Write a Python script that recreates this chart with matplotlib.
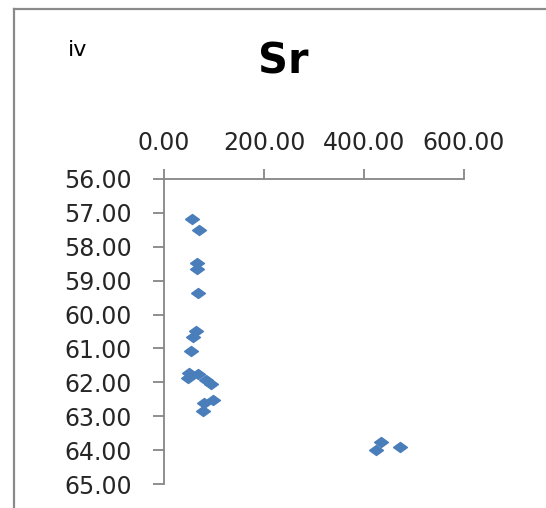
import matplotlib
matplotlib.use("Agg")
import matplotlib.pyplot as plt
from matplotlib.lines import Line2D

# Sr values (x) against depth-like values (y)
sr = [55.6, 70.2, 66.8, 66.2, 67.6, 63.6, 58.8, 53.6, 50.8, 48.8, 68.8,
      84.3, 93.7, 97.7, 80.9, 78.9, 433.5, 423.4, 472.2]
depth = [57.19, 57.51, 58.49, 58.67, 59.38, 60.49, 60.65, 61.06, 61.71, 61.88,
         61.75, 61.93, 62.05, 62.52, 62.61, 62.83, 63.74, 63.99, 63.89]
xticks = [0, 200, 400, 600]
yticks = [56, 57, 58, 59, 60, 61, 62, 63, 64, 65]

axcol = "#868686"
ptcol = "#4A7EBB"

fig = plt.figure(figsize=(5.46, 5.08), dpi=100)
ax = fig.add_axes([164/546, 1-484.3/508, 300/546, (484.3-178.7)/508])

diamond = [(-1, 0), (0, 0.72), (1, 0), (0, -0.72), (-1, 0)]
ax.plot(sr, depth, linestyle="none", marker=diamond, ms=10,
        color=ptcol, markeredgecolor=ptcol, clip_on=False)

ax.set_xlim(0, 600)
ax.set_ylim(65, 56)
ax.set_xticks(xticks)
ax.set_yticks(yticks)
ax.set_xticklabels(["%.2f" % v for v in xticks])
ax.set_yticklabels(["%.2f" % v for v in yticks])
ax.xaxis.tick_top()

for s in ["right", "bottom"]:
    ax.spines[s].set_visible(False)
for s in ["left", "top"]:
    ax.spines[s].set_color(axcol)
    ax.spines[s].set_linewidth(1.3)

ax.tick_params(axis="x", direction="out", length=7, width=1.3, color=axcol,
               pad=10, labelsize=17, labelcolor="#262626")
ax.tick_params(axis="y", direction="out", length=8, width=1.3, color=axcol,
               pad=15, labelsize=17, labelcolor="#262626")

fig.text(283/546, 1-62/508, "Sr", ha="center", va="center",
         fontsize=30, fontweight="bold")
fig.text(68/546, 1-56/508, "iv", ha="left", va="baseline", fontsize=16)

# outer chart frame (left and top edges visible)
fig.add_artist(Line2D([14/546, 14/546], [0, 1-8.5/508], transform=fig.transFigure,
                      color="#8a8a8a", lw=1.6))
fig.add_artist(Line2D([14/546, 1], [1-8.5/508, 1-8.5/508], transform=fig.transFigure,
                      color="#8a8a8a", lw=1.6))

fig.savefig("out.png", dpi=100)
